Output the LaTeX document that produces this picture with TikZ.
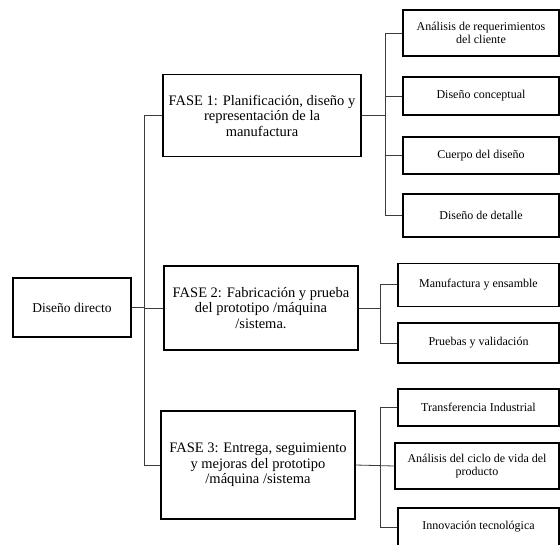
\documentclass[tikz,border=0pt]{standalone}
\usepackage{fontspec}
\setmainfont{Liberation Serif}
\usetikzlibrary{positioning, calc}
\definecolor{linecolor}{RGB}{60,60,60}
\tikzset{
  rootbox/.style  = {draw=black, line width=1.1pt, fill=white, align=center,
                     font=\fontsize{13.5}{15.5}\selectfont, inner sep=2pt},
  phasebox/.style = {draw=black, line width=1.1pt, fill=white, align=center,
                     font=\fontsize{14.5}{15.5}\selectfont, inner sep=2pt},
  taskbox/.style  = {draw=black, line width=1.1pt, fill=white, align=center,
                     font=\fontsize{12}{13.3}\selectfont, inner sep=2pt},
  link/.style     = {draw=linecolor, line width=0.8pt},
}
\begin{document}
\begin{tikzpicture}[x=1pt, y=-1pt]
  \useasboundingbox (0,0) rectangle (560,544);

  % raiz y fases
  \node[rootbox, minimum width=118pt, minimum height=59pt] (root) at (72,307.5) {Diseño directo};
  \node[phasebox, minimum width=198pt, minimum height=82pt] (fase1) at (262,115.7)
    {FASE 1: Planificación, diseño y\\representación de la\\manufactura};
  \node[phasebox, minimum width=194pt, minimum height=84pt] (fase2) at (261,308)
    {FASE 2: Fabricación y prueba\\del prototipo /máquina\\/sistema.};
  \node[phasebox, minimum width=194pt, minimum height=108pt] (fase3) at (258,465)
    {FASE 3: Entrega, seguimiento\\y mejoras del prototipo\\/máquina /sistema};

  % tareas de la fase 1
  \node[taskbox, minimum width=156pt, minimum height=46pt] (req)  at (481,33)
    {Análisis de requerimientos\\del cliente};
  \node[taskbox, minimum width=156pt, minimum height=38pt] (conc) at (481,96) {Diseño conceptual};
  \node[taskbox, minimum width=156pt, minimum height=37pt] (cuer) at (481,155.5) {Cuerpo del diseño};
  \node[taskbox, minimum width=156pt, minimum height=43pt] (det)  at (481,215.5) {Diseño de detalle};

  % tareas de la fase 2
  \node[taskbox, minimum width=161pt, minimum height=43pt] (manu) at (478.5,284.7) {Manufactura y ensamble};
  \node[taskbox, minimum width=161pt, minimum height=40pt] (prue) at (478.5,343) {Pruebas y validación};

  % tareas de la fase 3
  \node[taskbox, minimum width=161pt, minimum height=37pt] (tran) at (478.5,407.5) {Transferencia Industrial};
  \node[taskbox, minimum width=164pt, minimum height=46pt] (cicl) at (477,466)
    {Análisis del ciclo de vida del\\producto};
  \node[taskbox, minimum width=161pt, minimum height=38pt] (inno) at (478.5,527) {Innovación tecnológica};

  % buses
  \coordinate (trunk) at (144,0);
  \coordinate (bus1)  at (385,0);
  \coordinate (bus2)  at (380,0);
  \coordinate (bus3)  at (380,0);

  \draw[link] (root.east) -- (root.east -| trunk);
  \draw[link] (fase1.west) -| (fase3.west -| trunk) -- (fase3.west);
  \draw[link] (fase2.west) -- (fase2.west -| trunk);

  \draw[link] (fase1.east) -- (fase1.east -| bus1);
  \draw[link] (req.west) -| (det.west -| bus1) -- (det.west);
  \draw[link] (conc.west) -- (conc.west -| bus1);
  \draw[link] (cuer.west) -- (cuer.west -| bus1);

  \draw[link] (fase2.east) -- (fase2.east -| bus2);
  \draw[link] (manu.west) -| (prue.west -| bus2) -- (prue.west);

  \draw[link] (fase3.east) -- (cicl.west);
  \draw[link] (tran.west) -| (inno.west -| bus3) -- (inno.west);
\end{tikzpicture}
\end{document}
